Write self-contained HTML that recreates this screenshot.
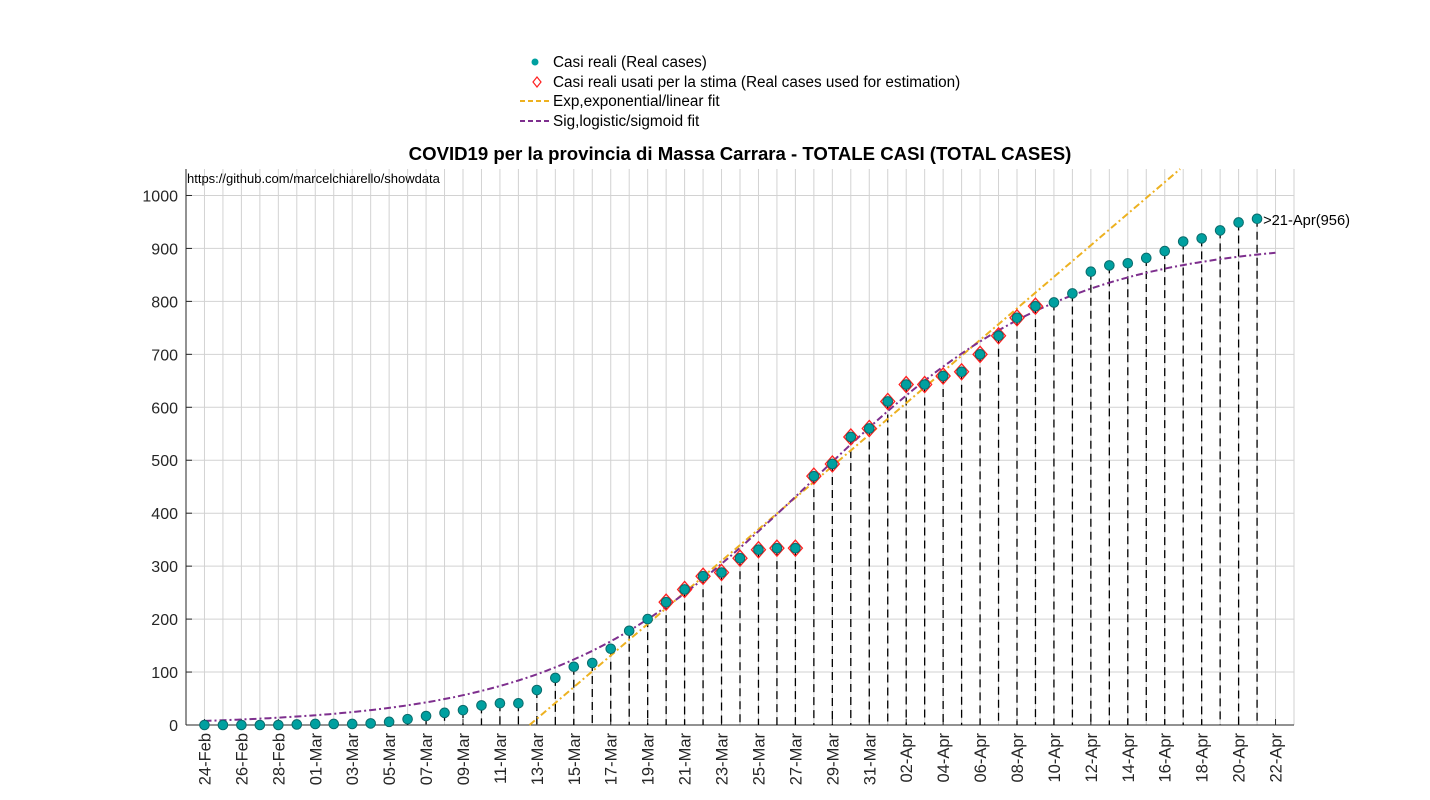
<!DOCTYPE html>
<html><head><meta charset="utf-8"><style>
html,body{margin:0;padding:0;background:#fff;}
svg{display:block;font-family:"Liberation Sans",Arial,sans-serif;}
</style></head><body>
<svg id="chart" width="1430" height="800"></svg>
<script>
// ---- data ----
const startDate = "24-Feb";
const months = ["Feb","Mar","Apr"];
const realCases = [0,0,0,0,0,1,2,2,2,3,6,11,17,23,28,37,41,41,66,89,110,117,144,178,200,232,256,281,288,315,331,334,334,470,493,544,560,611,643,643,659,667,700,735,769,791,798,815,856,868,872,882,895,913,919,934,949,956];
const estStartIdx = [25];
const estEndIdx = [45];
const expFit = [17.6, 29.8];        // zero-crossing day, slope per day
const sigFit = [915, 0.145, 32.8];  // K, rate, midpoint day
const yTicks = [0,100,200,300,400,500,600,700,800,900,1000];
// ---- layout ----
const X0=186, X1=1294, Y0=725, YT=169;
const dayMin=-1, dayMax=59, yMax=1050;
const sx=d=>X0+(d-dayMin)/(dayMax-dayMin)*(X1-X0);
const sy=v=>Y0-v/yMax*(Y0-YT);
const NS="http://www.w3.org/2000/svg";
const svg=document.getElementById('chart');
function mk(tag,attrs,parent){const e=document.createElementNS(NS,tag);for(const k in attrs)e.setAttribute(k,attrs[k]);(parent||svg).appendChild(e);return e;}
function dateLabel(d){const dt=new Date(2020,1,24+d);return String(dt.getDate()).padStart(2,'0')+'-'+months[dt.getMonth()-1];}
const grid=mk('g',{});


for(let d=dayMin+1;d<=dayMax;d++){mk('line',{x1:sx(d),x2:sx(d),y1:YT,y2:Y0,stroke:'#d2d2d2','stroke-width':1},grid);}
yTicks.forEach(v=>mk('line',{x1:X0,x2:X1,y1:sy(v),y2:sy(v),stroke:'#d2d2d2','stroke-width':1},grid));
mk('line',{x1:X0,x2:X0,y1:YT,y2:Y0,stroke:'#262626','stroke-width':1});
mk('line',{x1:X0,x2:X1,y1:Y0,y2:Y0,stroke:'#262626','stroke-width':1});
// y ticks
yTicks.forEach(v=>{
 mk('line',{x1:X0,x2:X0+6,y1:sy(v),y2:sy(v),stroke:'#262626'});
 const t=mk('text',{x:X0-8,y:sy(v)+6,'text-anchor':'end','font-size':16,fill:'#262626'});
 t.textContent=v;
 
 
});
// x ticks
for(let d=0;d<=58;d+=2){
 mk('line',{x1:sx(d),x2:sx(d),y1:Y0,y2:Y0-6,stroke:'#262626'});
 const t=mk('text',{transform:`translate(${sx(d)+6},${Y0+8}) rotate(-90)`,'text-anchor':'end','font-size':16.5,fill:'#262626'});
 t.textContent=dateLabel(d);
 
 
}
// stems
realCases.forEach((v,i)=>{
 const l=mk('line',{x1:sx(i),x2:sx(i),y1:sy(v),y2:Y0,stroke:'#000','stroke-width':1.3,'stroke-dasharray':'8,5'});
 
 
});
// exp fit
{const d1=expFit[0]+yMax/expFit[1];
 const l=mk('line',{x1:sx(expFit[0]),y1:sy(0),x2:sx(d1),y2:sy(yMax),stroke:'#edb120','stroke-width':2,'stroke-dasharray':'7,3,2,3'});
 
 }
// sigmoid fit
{let p='';for(let d=0;d<=58;d+=0.25){const v=sigFit[0]/(1+Math.exp(-sigFit[1]*(d-sigFit[2])));p+=(p?'L':'M')+sx(d).toFixed(1)+','+sy(v).toFixed(1);}
 const l=mk('path',{d:p,fill:'none',stroke:'#7e2f8e','stroke-width':2,'stroke-dasharray':'7,3,2,3'});
 
 }
// points
realCases.forEach((v,i)=>{
 if(i>=estStartIdx[0]&&i<=estEndIdx[0]){
  const x=sx(i),y=sy(v);
  const dm=mk('polygon',{points:`${x},${y-8} ${x+7},${y} ${x},${y+8} ${x-7},${y}`,fill:'none',stroke:'#ff2020','stroke-width':1.3});
  
  
 }
 const c=mk('circle',{cx:sx(i),cy:sy(v),r:4.8,fill:'#00a0a0',stroke:'#0a6b6b','stroke-width':1});
 
 
});
// annotation
{const last=realCases.length-1;
 const t=mk('text',{x:sx(last)+6,y:sy(realCases[last])+6,'font-size':14.7,fill:'#000'});
 t.textContent='>'+dateLabel(last).replace(/^0/,'')+'('+realCases[last]+')';
 
 }
</script>
<svg width="1430" height="800" style="position:absolute;left:0;top:0">
<text x="740" y="160" text-anchor="middle" font-size="18.6" font-weight="bold" font-family="Liberation Sans, sans-serif" fill="#000">COVID19 per la provincia di Massa Carrara - TOTALE CASI (TOTAL CASES)</text>
<text x="187" y="183" font-size="13" font-family="Liberation Sans, sans-serif" fill="#000">https://github.com/marcelchiarello/showdata</text>
<g font-family="Liberation Sans, sans-serif" font-size="15.3" fill="#000">
 <circle cx="535" cy="62" r="3.5" fill="#00a0a0"/>
 <text x="553" y="67">Casi reali (Real cases)</text>
 <polygon points="537,77 541,82 537,87 533,82" fill="none" stroke="#ff2020" stroke-width="1.2"/>
 <text x="553" y="87">Casi reali usati per la stima (Real cases used for estimation)</text>
 <line x1="520" y1="101" x2="550" y2="101" stroke="#edb120" stroke-width="2" stroke-dasharray="5,3"/>
 <text x="553" y="106">Exp,exponential/linear fit</text>
 <line x1="520" y1="121" x2="550" y2="121" stroke="#7e2f8e" stroke-width="2" stroke-dasharray="5,3"/>
 <text x="553" y="126">Sig,logistic/sigmoid fit</text>
</g>
</svg>
</body></html>
